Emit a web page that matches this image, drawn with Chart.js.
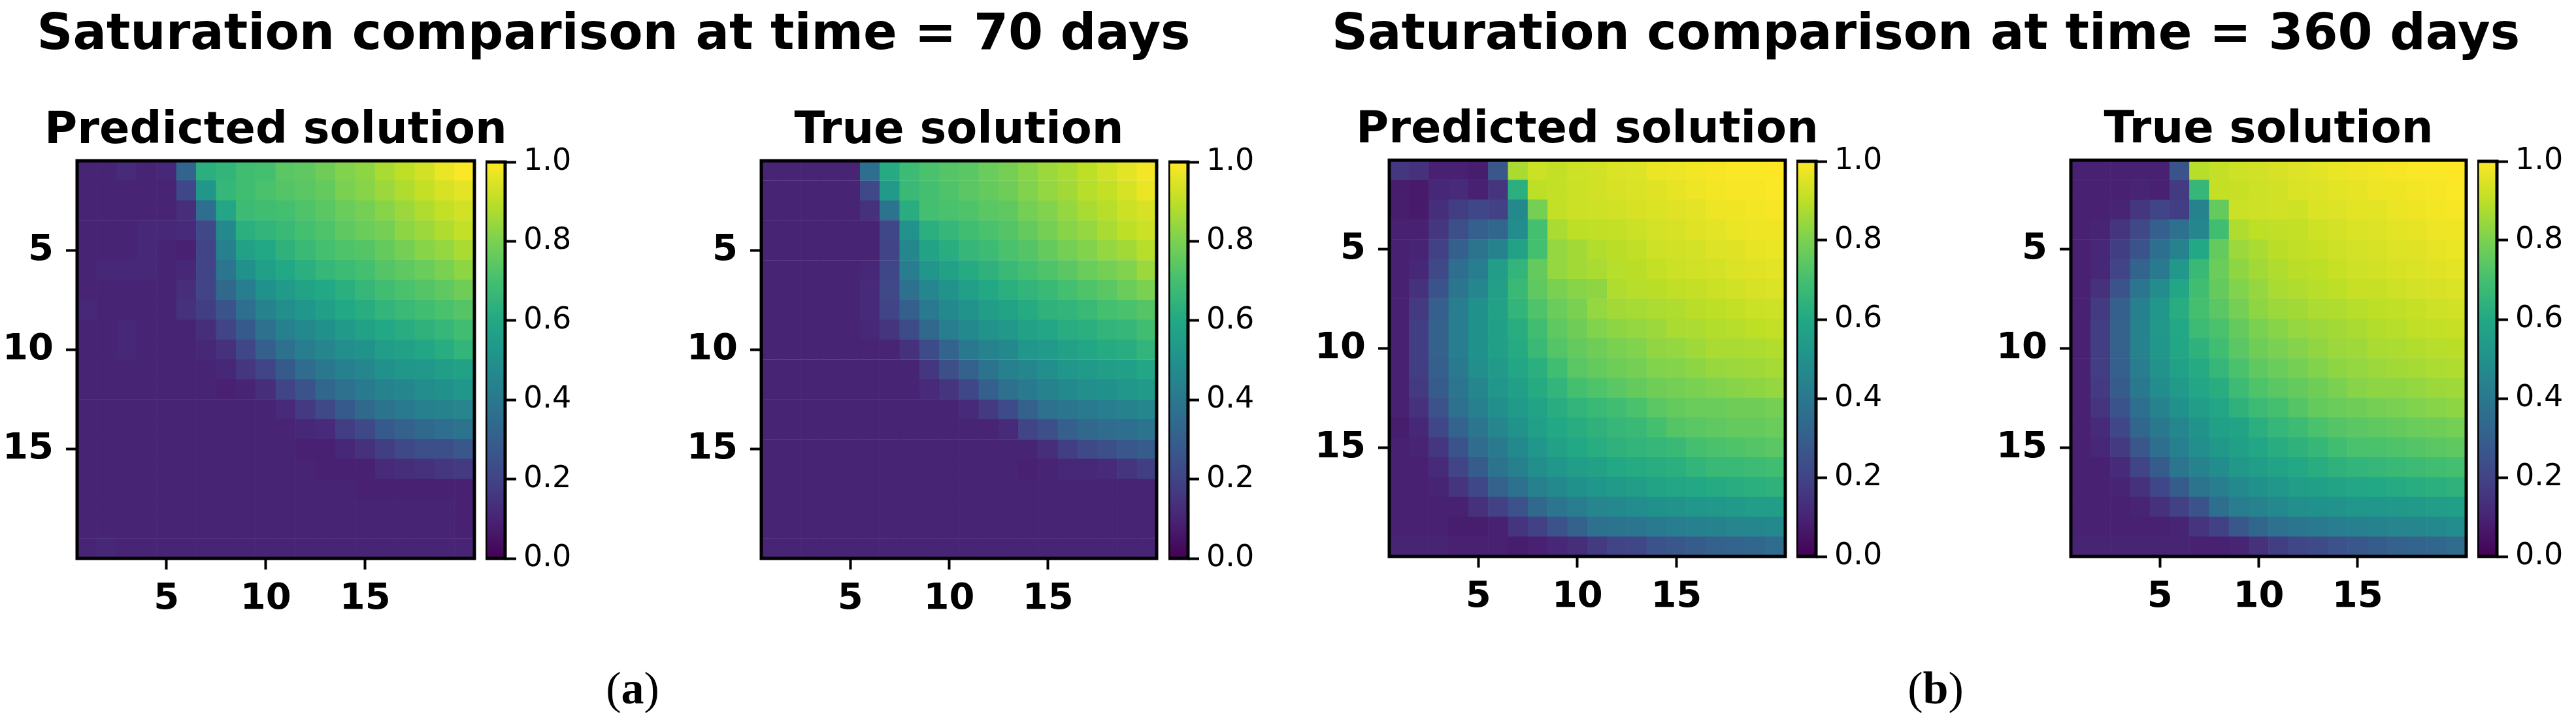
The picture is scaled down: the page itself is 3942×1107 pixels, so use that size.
<!DOCTYPE html>
<html lang="en">
<head>
    <meta charset="UTF-8">
    <title>Saturation comparison</title>
    <script src="https://cdn.jsdelivr.net/npm/chart.js"></script>
    <style>
        body {
            margin: 0;
            background: #fff;
            width: 3942px;
            height: 1107px;
            position: relative;
            overflow: hidden;
        }
        canvas {
            position: absolute;
        }
        .main-title {
            position: absolute;
            top: 4px;
            font: bold 76.3px "DejaVu Sans";
            line-height: 90px;
            text-align: center;
            white-space: nowrap;
            color: #000;
        }
        .caption {
            position: absolute;
            top: 1014px;
            width: 200px;
            font: 70px "Liberation Serif";
            line-height: 80px;
            text-align: center;
            color: #000;
        }
    </style>
</head>
<body>
    <div class="main-title" style="left:39px;width:1800px">Saturation comparison at time = 70 days</div>
    <div class="main-title" style="left:2038px;width:1800px">Saturation comparison at time = 360 days</div>
    <div class="caption" style="left:868px">(<b>a</b>)</div>
    <div class="caption" style="left:2862px">(<b>b</b>)</div>

    <script>
        const gridSize = 20;
        const axisTicks = [5, 10, 15];
        const colorbarTicks = [0, 0.2, 0.4, 0.6, 0.8, 1];
        const viridisStops = ['#440154', '#482475', '#414487', '#355f8d', '#2a788e', '#21918c',
                              '#22a884', '#44bf70', '#7ad151', '#bddf26', '#fde725'];

        const predicted70 = [
            .10,.10,.12,.10,.11,.32,.63,.65,.69,.70,.74,.75,.78,.81,.83,.87,.90,.93,.97,.995,
            .10,.10,.10,.10,.10,.21,.52,.66,.69,.71,.73,.74,.76,.80,.82,.85,.88,.91,.94,.96,
            .10,.10,.10,.10,.10,.13,.36,.59,.68,.69,.70,.72,.74,.77,.79,.82,.85,.88,.91,.93,
            .10,.10,.10,.11,.11,.12,.22,.47,.63,.65,.67,.70,.72,.75,.77,.79,.83,.85,.88,.91,
            .10,.10,.10,.11,.10,.09,.20,.43,.57,.60,.64,.67,.70,.72,.73,.76,.79,.82,.84,.87,
            .10,.11,.11,.11,.10,.11,.20,.39,.50,.56,.60,.63,.66,.68,.70,.73,.75,.77,.80,.83,
            .10,.10,.10,.10,.10,.13,.20,.34,.42,.50,.54,.58,.60,.63,.66,.69,.71,.73,.75,.78,
            .11,.10,.10,.10,.10,.14,.18,.26,.36,.44,.49,.52,.56,.60,.62,.65,.67,.69,.71,.73,
            .10,.10,.11,.10,.10,.10,.13,.20,.28,.37,.43,.47,.50,.54,.57,.60,.62,.64,.66,.69,
            .10,.10,.11,.10,.10,.10,.11,.14,.21,.30,.37,.42,.45,.49,.51,.55,.57,.59,.62,.65,
            .10,.10,.10,.10,.10,.10,.10,.11,.16,.20,.28,.35,.40,.43,.46,.50,.52,.53,.55,.57,
            .10,.10,.10,.10,.10,.10,.10,.09,.10,.13,.20,.25,.33,.37,.41,.44,.46,.48,.50,.52,
            .10,.10,.10,.10,.10,.10,.10,.10,.10,.10,.12,.17,.22,.28,.34,.38,.41,.43,.44,.45,
            .10,.10,.10,.10,.10,.10,.10,.10,.10,.10,.10,.11,.12,.18,.22,.28,.31,.34,.36,.38,
            .10,.10,.10,.10,.10,.10,.10,.10,.10,.10,.10,.09,.09,.11,.14,.18,.22,.24,.24,.27,
            .10,.10,.10,.10,.10,.10,.10,.10,.10,.10,.10,.10,.09,.09,.09,.12,.13,.14,.16,.17,
            .10,.10,.10,.10,.10,.10,.10,.10,.10,.10,.10,.10,.10,.10,.09,.09,.09,.09,.09,.09,
            .10,.10,.10,.10,.10,.10,.10,.10,.10,.10,.10,.10,.10,.10,.10,.10,.10,.10,.10,.09,
            .10,.10,.10,.10,.10,.10,.10,.10,.10,.10,.10,.10,.10,.10,.10,.10,.10,.10,.10,.09,
            .10,.11,.10,.10,.10,.10,.10,.10,.10,.10,.10,.10,.10,.10,.10,.10,.10,.10,.10,.10
        ];

        const true70 = [
            .10,.10,.10,.10,.10,.36,.61,.68,.71,.73,.74,.77,.79,.82,.85,.87,.90,.93,.96,.985,
            .10,.10,.10,.10,.10,.22,.54,.67,.70,.72,.74,.76,.78,.81,.84,.86,.89,.91,.94,.97,
            .10,.10,.10,.10,.10,.14,.38,.62,.70,.71,.72,.74,.75,.79,.81,.84,.87,.89,.92,.94,
            .10,.10,.10,.10,.10,.10,.21,.51,.63,.66,.69,.71,.73,.76,.79,.82,.84,.87,.90,.92,
            .10,.10,.10,.10,.10,.10,.20,.46,.58,.62,.66,.68,.71,.73,.76,.79,.81,.84,.86,.89,
            .10,.10,.10,.10,.10,.11,.21,.42,.52,.57,.61,.64,.67,.70,.72,.74,.77,.79,.81,.85,
            .10,.10,.10,.10,.10,.12,.22,.37,.46,.51,.56,.60,.63,.65,.67,.70,.72,.74,.77,.80,
            .10,.10,.10,.10,.10,.12,.20,.30,.41,.47,.51,.55,.58,.61,.64,.65,.67,.70,.71,.73,
            .10,.10,.10,.10,.10,.11,.15,.23,.34,.42,.47,.51,.53,.57,.59,.62,.63,.65,.66,.69,
            .10,.10,.10,.10,.10,.10,.10,.14,.23,.32,.40,.44,.47,.52,.54,.57,.59,.61,.62,.65,
            .10,.10,.10,.10,.10,.10,.10,.10,.16,.24,.31,.38,.43,.46,.49,.52,.54,.55,.56,.59,
            .10,.10,.10,.10,.10,.10,.10,.10,.12,.15,.21,.30,.37,.41,.44,.47,.49,.50,.52,.54,
            .10,.10,.10,.10,.10,.10,.10,.10,.10,.10,.12,.17,.23,.31,.37,.39,.41,.42,.44,.46,
            .10,.10,.10,.10,.10,.10,.10,.10,.10,.10,.10,.10,.12,.20,.24,.30,.34,.35,.36,.38,
            .10,.10,.10,.10,.10,.10,.10,.10,.10,.10,.10,.10,.10,.10,.13,.18,.22,.24,.27,.29,
            .10,.10,.10,.10,.10,.10,.10,.10,.10,.10,.10,.10,.10,.09,.10,.11,.11,.12,.15,.18,
            .10,.10,.10,.10,.10,.10,.10,.10,.10,.10,.10,.10,.10,.10,.10,.10,.10,.10,.10,.10,
            .10,.10,.10,.10,.10,.10,.10,.10,.10,.10,.10,.10,.10,.10,.10,.10,.10,.10,.10,.10,
            .10,.10,.10,.10,.10,.10,.10,.10,.10,.10,.10,.10,.10,.10,.10,.10,.10,.10,.10,.10,
            .10,.10,.10,.10,.10,.10,.10,.10,.10,.10,.10,.10,.10,.10,.10,.10,.10,.10,.10,.10
        ];

        const predicted360 = [
            .16,.14,.09,.09,.08,.27,.87,.92,.91,.925,.93,.945,.95,.97,.975,.985,.99,.995,.995,1,
            .08,.07,.11,.12,.09,.15,.63,.90,.91,.92,.93,.94,.945,.955,.965,.975,.985,.99,.99,.995,
            .08,.07,.13,.18,.21,.19,.47,.79,.91,.92,.925,.93,.94,.945,.955,.96,.975,.98,.985,.99,
            .09,.09,.16,.24,.30,.33,.48,.70,.87,.90,.905,.91,.92,.935,.94,.955,.96,.97,.975,.98,
            .09,.10,.19,.30,.38,.44,.57,.70,.84,.86,.885,.895,.905,.925,.93,.935,.95,.955,.965,.97,
            .09,.11,.22,.36,.42,.55,.65,.76,.84,.86,.87,.89,.895,.91,.92,.93,.935,.945,.955,.96,
            .09,.14,.26,.39,.46,.56,.67,.75,.80,.82,.83,.88,.89,.895,.905,.91,.92,.93,.94,.945,
            .09,.17,.30,.42,.50,.57,.65,.72,.77,.80,.84,.86,.865,.875,.88,.895,.90,.91,.92,.925,
            .09,.18,.31,.42,.50,.56,.62,.69,.75,.78,.81,.83,.84,.85,.87,.875,.885,.89,.90,.91,
            .09,.18,.31,.42,.50,.56,.61,.67,.73,.76,.78,.80,.81,.835,.84,.855,.87,.87,.875,.885,
            .09,.18,.30,.41,.49,.54,.59,.63,.69,.74,.76,.78,.79,.81,.815,.83,.845,.85,.855,.865,
            .09,.17,.29,.39,.46,.52,.56,.61,.65,.70,.72,.74,.76,.78,.79,.80,.81,.82,.83,.84,
            .09,.14,.25,.37,.43,.49,.54,.58,.62,.65,.67,.69,.71,.74,.76,.77,.77,.78,.78,.79,
            .08,.11,.21,.32,.39,.46,.51,.56,.60,.62,.64,.66,.67,.70,.73,.74,.75,.76,.76,.77,
            .09,.10,.16,.26,.35,.41,.47,.52,.57,.60,.62,.64,.65,.66,.67,.70,.71,.72,.73,.74,
            .09,.09,.12,.20,.29,.38,.43,.49,.52,.55,.57,.60,.61,.62,.63,.65,.67,.67,.68,.69,
            .09,.09,.10,.15,.21,.31,.37,.43,.47,.50,.52,.54,.55,.58,.59,.60,.61,.62,.63,.64,
            .09,.09,.09,.09,.14,.19,.25,.34,.39,.42,.45,.47,.48,.50,.51,.52,.53,.54,.55,.55,
            .09,.09,.09,.08,.08,.09,.15,.19,.25,.31,.37,.38,.39,.41,.42,.43,.44,.45,.46,.47,
            .10,.10,.10,.09,.09,.09,.08,.09,.11,.13,.17,.20,.21,.25,.27,.29,.31,.32,.33,.35
        ];

        const true360 = [
            .09,.09,.09,.09,.09,.26,.89,.91,.925,.93,.94,.95,.96,.97,.975,.985,.99,.995,.995,1,
            .09,.09,.09,.10,.09,.17,.66,.91,.915,.925,.93,.945,.95,.96,.965,.975,.98,.985,.99,.995,
            .09,.09,.10,.16,.20,.18,.44,.76,.92,.925,.93,.925,.945,.95,.96,.96,.97,.98,.985,.99,
            .09,.10,.15,.22,.30,.37,.46,.69,.88,.90,.905,.91,.925,.935,.945,.95,.96,.965,.975,.98,
            .09,.11,.18,.26,.36,.44,.60,.76,.85,.87,.895,.905,.915,.925,.935,.94,.95,.955,.965,.97,
            .09,.11,.20,.32,.41,.53,.67,.77,.83,.86,.88,.895,.90,.915,.925,.93,.94,.945,.955,.96,
            .09,.14,.26,.39,.48,.59,.69,.76,.81,.84,.87,.88,.89,.90,.915,.915,.925,.935,.94,.945,
            .09,.17,.30,.43,.52,.62,.70,.74,.79,.83,.85,.86,.875,.88,.89,.90,.905,.915,.925,.93,
            .09,.18,.31,.44,.53,.60,.68,.71,.76,.80,.82,.84,.85,.86,.87,.885,.89,.905,.91,.915,
            .09,.18,.31,.44,.52,.59,.64,.69,.74,.78,.80,.815,.835,.85,.855,.87,.875,.885,.89,.895,
            .09,.18,.30,.42,.51,.57,.61,.66,.71,.75,.77,.79,.81,.83,.84,.85,.86,.865,.875,.88,
            .09,.17,.29,.40,.48,.54,.59,.62,.68,.72,.74,.76,.78,.80,.82,.83,.83,.84,.85,.855,
            .09,.15,.26,.36,.44,.50,.55,.59,.64,.68,.70,.73,.76,.77,.78,.79,.80,.81,.82,.83,
            .09,.12,.21,.33,.40,.46,.51,.56,.58,.63,.66,.68,.71,.73,.74,.75,.76,.77,.78,.79,
            .09,.11,.17,.27,.36,.43,.49,.53,.56,.59,.62,.64,.66,.69,.71,.71,.72,.73,.74,.75,
            .09,.09,.12,.20,.29,.39,.44,.48,.53,.55,.58,.60,.62,.64,.65,.66,.67,.68,.69,.70,
            .09,.09,.10,.14,.21,.29,.38,.42,.47,.50,.52,.55,.56,.58,.59,.60,.61,.62,.63,.64,
            .09,.09,.09,.10,.14,.19,.26,.36,.42,.44,.47,.49,.50,.51,.52,.52,.53,.54,.55,.56,
            .09,.09,.09,.09,.09,.10,.15,.19,.27,.33,.37,.39,.41,.42,.43,.44,.45,.46,.47,.48,
            .10,.10,.10,.10,.10,.10,.09,.09,.10,.14,.18,.21,.23,.25,.27,.29,.31,.32,.33,.35
        ];

        // plot boxes measured on the reference
        const panels = [
            { title: 'Predicted solution', values: predicted70, left: 118, top: 248, width: 608, height: 606.5, barLeft: 743 },
            { title: 'True solution', values: true70, left: 1165, top: 248, width: 605, height: 606.5, barLeft: 1788 },
            { title: 'Predicted solution', values: predicted360, left: 2126, top: 247, width: 606, height: 604.5, barLeft: 2749 },
            { title: 'True solution', values: true360, left: 3169, top: 247, width: 605, height: 604.5, barLeft: 3791 }
        ];

        const AXIS_W = 118;
        const AXIS_H = 100;
        const TITLE_H = 88;
        const BAR_W = 30;
        const BAR_PAD = 50;
        const LABEL_W = 120;

        function hexToRgb(hex) {
            return [1, 3, 5].map(i => parseInt(hex.slice(i, i + 2), 16));
        }

        function viridis(v) {
            const pos = Math.min(Math.max(v, 0), 1) * (viridisStops.length - 1);
            const i = Math.min(Math.floor(pos), viridisStops.length - 2);
            const a = hexToRgb(viridisStops[i]);
            const b = hexToRgb(viridisStops[i + 1]);
            const c = a.map((n, k) => Math.round(n + (b[k] - n) * (pos - i)));
            return `rgb(${c[0]},${c[1]},${c[2]})`;
        }

        function addCanvas(left, top, width, height) {
            const canvas = document.createElement('canvas');
            canvas.width = width;
            canvas.height = height;
            canvas.style.left = left + 'px';
            canvas.style.top = top + 'px';
            document.body.appendChild(canvas);
            return canvas.getContext('2d');
        }

        const framePlugin = {
            id: 'frame',
            afterDatasetsDraw(chart) {
                const a = chart.chartArea;
                const ctx = chart.ctx;
                ctx.save();
                ctx.strokeStyle = '#000';
                ctx.lineWidth = 5;
                ctx.strokeRect(a.left, a.top, a.right - a.left, a.bottom - a.top);
                ctx.restore();
            }
        };

        function heatAxis(reverse, pin) {
            return {
                type: 'linear',
                reverse: reverse,
                min: 0.5,
                max: gridSize + 0.5,
                afterBuildTicks: scale => { scale.ticks = axisTicks.map(v => ({ value: v })); },
                afterFit: pin,
                grid: { drawOnChartArea: false, drawTicks: true, tickLength: 17, tickWidth: 4, tickColor: '#000' },
                border: { display: false },
                ticks: {
                    color: '#000',
                    padding: reverse ? 19 : 12,
                    maxRotation: 0,
                    font: { family: 'DejaVu Sans', weight: 'bold', size: 56 }
                }
            };
        }

        function drawHeatmap(p) {
            const cells = [];
            p.values.forEach((v, i) => {
                cells.push({ x: i % gridSize + 1, y: Math.floor(i / gridSize) + 1 });
            });
            const ctx = addCanvas(p.left - AXIS_W, p.top - TITLE_H,
                Math.ceil(p.width + 2 * AXIS_W), Math.ceil(TITLE_H + p.height + AXIS_H));
            new Chart(ctx, {
                type: 'scatter',
                data: {
                    datasets: [{
                        data: cells,
                        pointStyle: 'rect',
                        pointRadius: (p.width / gridSize + 0.6) / Math.SQRT2,
                        pointHoverRadius: (p.width / gridSize + 0.6) / Math.SQRT2,
                        pointBorderWidth: 0,
                        pointBackgroundColor: p.values.map(viridis)
                    }]
                },
                options: {
                    responsive: false,
                    animation: false,
                    events: [],
                    plugins: {
                        legend: { display: false },
                        tooltip: { enabled: false },
                        title: {
                            display: true,
                            text: p.title,
                            color: '#000',
                            padding: { top: 0, bottom: 4 },
                            font: { family: 'DejaVu Sans', weight: 'bold', size: 68.5, lineHeight: 1.2 }
                        }
                    },
                    scales: {
                        x: heatAxis(false, scale => { scale.height = AXIS_H; }),
                        y: heatAxis(true, scale => { scale.width = AXIS_W; }),
                        // empty right axis, same width as the left one, keeps the title centred over the plot
                        right: {
                            position: 'right',
                            afterFit: scale => { scale.width = AXIS_W; },
                            grid: { display: false },
                            border: { display: false },
                            ticks: { display: false }
                        }
                    }
                },
                plugins: [framePlugin]
            });
        }

        function drawColorbar(p) {
            const ctx = addCanvas(p.barLeft, p.top - BAR_PAD, BAR_W + LABEL_W, Math.ceil(p.height + 2 * BAR_PAD));
            new Chart(ctx, {
                type: 'bar',
                data: {
                    labels: ['saturation'],
                    datasets: [{
                        data: [[0, 1]],
                        barPercentage: 1,
                        categoryPercentage: 1,
                        backgroundColor: c => {
                            const a = c.chart.chartArea;
                            if (!a || !Number.isFinite(a.top)) return viridisStops[0];
                            const g = c.chart.ctx.createLinearGradient(0, a.bottom, 0, a.top);
                            viridisStops.forEach((s, i) => g.addColorStop(i / (viridisStops.length - 1), s));
                            return g;
                        }
                    }]
                },
                options: {
                    responsive: false,
                    animation: false,
                    events: [],
                    layout: { padding: { top: BAR_PAD, bottom: BAR_PAD } },
                    plugins: { legend: { display: false }, tooltip: { enabled: false } },
                    scales: {
                        x: { display: false },
                        y: {
                            position: 'right',
                            min: 0,
                            max: 1,
                            afterBuildTicks: scale => { scale.ticks = colorbarTicks.map(v => ({ value: v })); },
                            afterFit: scale => { scale.width = LABEL_W; },
                            grid: { drawOnChartArea: false, drawTicks: true, tickLength: 17, tickWidth: 4, tickColor: '#000' },
                            border: { display: false },
                            ticks: {
                                color: '#000',
                                padding: 11,
                                callback: v => v.toFixed(1),
                                font: { family: 'DejaVu Sans', size: 46 }
                            }
                        }
                    }
                },
                plugins: [framePlugin]
            });
        }

        panels.forEach(drawHeatmap);
        panels.forEach(drawColorbar);
    </script>
</body>
</html>
